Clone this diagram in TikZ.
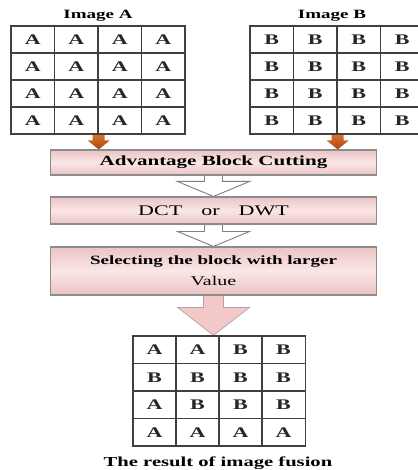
\documentclass[tikz,border=0pt]{standalone}
\usepackage{fontspec}
\setmainfont[FakeStretch=1.5]{Liberation Serif}
\usetikzlibrary{calc,backgrounds}

\definecolor{pinkd}{RGB}{236,196,196}
\definecolor{pinkl}{RGB}{250,230,230}
\definecolor{pinka}{RGB}{242,200,200}
\definecolor{orangel}{RGB}{218,112,40}
\definecolor{oranged}{RGB}{168,74,22}

% style, top, tip, shaft half width, head half width, head length
\newcommand{\blockarr}[6]{%
  \draw[#1] ($(#2)+(-#4,0)$) -- ($(#3)+(-#4,-#6)$) -- ($(#3)+(-#5,-#6)$) -- (#3)
    -- ($(#3)+(#5,-#6)$) -- ($(#3)+(#4,-#6)$) -- ($(#2)+(#4,0)$) -- cycle;}

\begin{document}
\begin{tikzpicture}[
  x=0.75pt, y=-0.75pt,
  cell/.style={draw=black!75, line width=1.1pt, minimum width=32.6pt, minimum height=20.4pt,
    inner sep=0pt, text=black!85, font=\fontsize{11}{13}\selectfont\bfseries},
  title/.style={font=\fontsize{9.5}{11}\selectfont\bfseries},
  box/.style={draw=black!45, line width=0.8pt, minimum width=245pt, inner sep=2pt, align=center,
    top color=pinkd, bottom color=pinkd, middle color=pinkl},
  hollow/.style={draw=black!50, line width=0.7pt, fill=white},
  solid/.style={draw=pinkd!80!black, line width=0.5pt, fill=pinka},
  orangearr/.style={draw=none, top color=orangel, bottom color=oranged}
]
\useasboundingbox (0,0) rectangle (417,470);

\node[title] (ta) at (98,16) {Image A};
\node[title] (tb) at (332,16) {Image B};
\foreach \i in {1,...,4}
  \foreach \j in {1,...,4} {
    \node[cell] (a-\i-\j) at ({11+43.5*(\j-0.5)},{26+27*(\i-0.5)}) {A};
    \node[cell] (b-\i-\j) at ({250+43.5*(\j-0.5)},{26+27*(\i-0.5)}) {B};
  }

\node[box, minimum height=18.75pt, font=\fontsize{10.5}{12}\selectfont\bfseries] (cut)
  at (213.5,162.5) {Advantage Block Cutting};
\node[box, minimum height=20.25pt, font=\fontsize{11}{13}\selectfont] (dct)
  at (213.5,210.5) {DCT\hspace{1.3em}or\hspace{1.3em}DWT};
\node[box, minimum height=36pt, font=\fontsize{10}{16}\selectfont] (sel)
  at (213.5,271) {{\fontsize{9.5}{11}\selectfont\bfseries Selecting the block with larger}\\Value};

\foreach \row [count=\i] in {{A,A,B,B},{B,B,B,B},{A,B,B,B},{A,A,A,A}}
  \foreach \l [count=\j] in \row
    \node[cell] (r-\i-\j) at ({133+43*(\j-0.5)},{336+27.5*(\i-0.5)}) {\l};

\node[font=\fontsize{10.3}{12}\selectfont\bfseries] (res) at (218,463) {The result of image fusion};

\coordinate (topa) at (a-4-2.south east);
\coordinate (tipa) at (topa |- cut.north);
\coordinate (topb) at (b-4-2.south east);
\coordinate (tipb) at (topb |- cut.north);
\coordinate (tipr) at (cut.south |- r-1-2.north east);

\begin{scope}[on background layer]
\blockarr{orangearr}{topa}{tipa}{6}{11}{9}
\blockarr{orangearr}{topb}{tipb}{6}{11}{9}
\blockarr{hollow}{cut.south}{dct.north}{9}{36}{15}
\blockarr{hollow}{dct.south}{sel.north}{9}{36}{15}
\blockarr{solid}{sel.south}{tipr}{10}{36}{28}
\end{scope}
\end{tikzpicture}
\end{document}
